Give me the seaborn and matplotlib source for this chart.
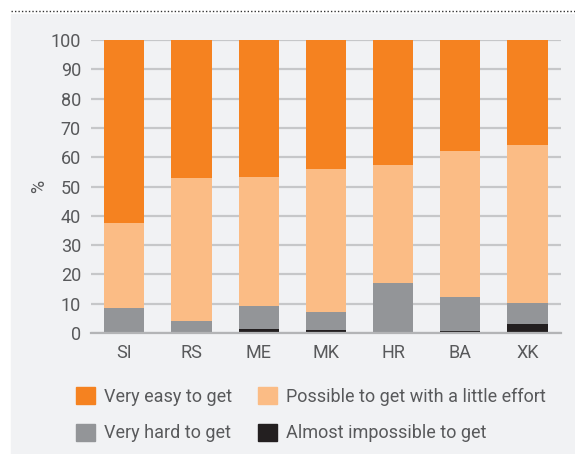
import numpy as np
import pandas as pd
import seaborn as sns
import matplotlib.pyplot as plt
from matplotlib.patches import Patch, Rectangle
from matplotlib.lines import Line2D

# values (percent of respondents)
countries = ["SI", "RS", "ME", "MK", "HR", "BA", "XK"]
almost_impossible = [0.2, 0.0, 1.3, 0.9, 0.2, 0.6, 3.1]
very_hard = [8.3, 4.1, 7.9, 6.3, 16.9, 11.7, 7.1]
with_effort = [29.0, 48.9, 44.1, 48.9, 40.3, 49.9, 54.1]
very_easy = [62.5, 47.0, 46.7, 43.9, 42.6, 37.8, 35.7]

labels = ["Very easy to get", "Possible to get with a little effort",
          "Very hard to get", "Almost impossible to get"]
colors = ["#f58220", "#fbbc85", "#939598", "#231f20"]

df = pd.DataFrame({"country": countries,
                   labels[3]: almost_impossible,
                   labels[2]: very_hard,
                   labels[1]: with_effort,
                   labels[0]: very_easy})

# stacked = cumulative heights, draw tallest first
cum = df[[labels[3], labels[2], labels[1], labels[0]]].cumsum(axis=1)

sns.set_style("white")
plt.rcParams['font.family'] = ['Roboto', 'DejaVu Sans']
txt = "#58595b"
bg = "#f1f2f4"
fs = 13

fig = plt.figure(figsize=(5.75, 4.54), dpi=100)
fig.patch.set_facecolor("white")
fig.patches.append(Rectangle((11 / 575, 0), 1, (454 - 14) / 454,
                             transform=fig.transFigure, color=bg, zorder=-10))
fig.lines.append(Line2D([11 / 575, 1], [1 - 11 / 454] * 2, transform=fig.transFigure,
                        color="#333333", lw=1.0, ls=(0, (1, 1.5))))

ax = fig.add_axes([90.7 / 575, 1 - 333 / 454, (561 - 90.7) / 575, (333 - 40) / 454])
ax.set_facecolor(bg)

for lab, col in zip(labels, colors):
    sns.barplot(x=df["country"], y=cum[lab], color=col, width=0.6, linewidth=0,
                saturation=1, ax=ax, zorder=3, order=countries)

ax.set_ylim(0, 100)
ax.set_xlim(-0.5, 6.5)
ax.set_yticks(np.arange(0, 101, 10))
ax.yaxis.grid(True, color="#c6c7c9", lw=1.6, zorder=0)
ax.set_axisbelow(True)
for s in ["top", "right", "left"]:
    ax.spines[s].set_visible(False)
ax.spines["bottom"].set_color("#b3b4b6")
ax.spines["bottom"].set_linewidth(1.6)
ax.spines["bottom"].set_zorder(4)

ax.set_xticks(np.arange(-0.5, 7, 1), minor=True)
ax.tick_params(axis="x", which="minor", length=5, width=1.6, color="#b3b4b6")
ax.tick_params(axis="x", which="major", length=0, pad=8, labelsize=fs, labelcolor=txt)
ax.tick_params(axis="y", length=0, pad=7, labelsize=fs, labelcolor=txt)
ax.set_xlabel("")
ax.set_ylabel("%", color=txt, fontsize=fs, labelpad=2)

handles = [Patch(color=c) for c in colors]
order = [0, 2, 1, 3]
fig.legend([handles[i] for i in order], [labels[i] for i in order], ncol=2,
           loc="upper left", bbox_to_anchor=(69 / 575, 1 - 380 / 454),
           frameon=False, fontsize=fs, labelcolor=txt,
           handlelength=1.05, handleheight=1.05, handletextpad=0.5,
           columnspacing=1.4, labelspacing=1.0, borderaxespad=0)

fig.savefig("out.png", dpi=100, facecolor=fig.get_facecolor())
